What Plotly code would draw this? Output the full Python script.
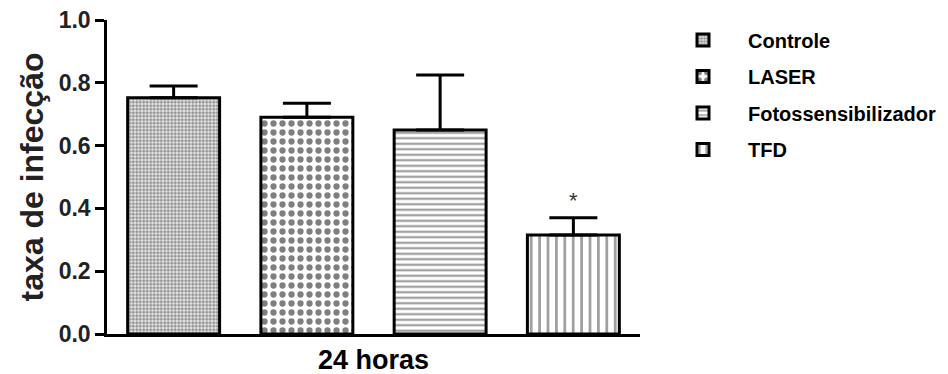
import plotly.graph_objects as go

# Infection rate at 24 h for each treatment group (mean and upper SEM)
grupos = ["Controle", "LASER", "Fotossensibilizador", "TFD"]
periodo = ["24 horas"]
taxa = [0.752, 0.690, 0.650, 0.315]
erro = [0.038, 0.045, 0.175, 0.055]
signif = ["", "", "", "*"]

# Fill textures for each group
padroes = [
    dict(shape=".", size=3.5, solidity=0.6, fgcolor="#333", bgcolor="#eee"),
    dict(shape=".", size=9, solidity=0.38, fgcolor="black", bgcolor="white"),
    dict(shape="-", size=5.5, solidity=0.42, fgcolor="#444", bgcolor="white"),
    dict(shape="|", size=8.4, solidity=0.33, fgcolor="#444", bgcolor="white"),
]

FONT = "Arial, Liberation Sans, sans-serif"
BARGAP = 0.0
fig = go.Figure()
for i, nome in enumerate(grupos):
    fig.add_trace(go.Bar(
        name=nome,
        x=periodo,
        y=[taxa[i]],
        legendgroup=nome,
        marker=dict(color="white", pattern=padroes[i],
                    line=dict(color="black", width=3)),
        error_y=dict(type="data", symmetric=False, array=[erro[i]],
                     arrayminus=[0], color="black", thickness=3, width=24),
    ))

# significance marks above the error bars
n = len(grupos)
slot = (1 - BARGAP) / n
for i, s in enumerate(signif):
    if s:
        fig.add_annotation(
            x=-0.5 * (1 - BARGAP) + (i + 0.5) * slot, xref="x",
            y=taxa[i] + erro[i], yref="y", yanchor="bottom",
            text=s, showarrow=False, yshift=3,
            font=dict(family=FONT, size=22, color="#333"),
        )

W, H = 948, 374
fig.update_layout(
    width=W, height=H,
    margin=dict(l=107, r=308, t=20, b=39.5),
    paper_bgcolor="white", plot_bgcolor="white",
    barmode="group", bargap=BARGAP, bargroupgap=0.31,
    font=dict(family=FONT, color="black"),
    showlegend=True,
    legend=dict(
        xref="container", yref="container",
        x=658 / W, xanchor="left",
        y=1 - 20.4 / H, yanchor="top",
        font=dict(family=FONT, size=20, color="black", weight="bold"),
        itemwidth=80, tracegroupgap=7.5,
        bgcolor="rgba(0,0,0,0)",
    ),
    xaxis=dict(
        range=[-0.5, 0.5], showline=True, linecolor="black", linewidth=2.5,
        ticks="", showgrid=False, zeroline=False, automargin=False,
        tickfont=dict(family=FONT, size=27, weight="bold"),
    ),
    yaxis=dict(
        range=[0, 1], dtick=0.2, tickformat=".1f", automargin=False,
        showline=True, linecolor="black", linewidth=2.5,
        ticks="outside", ticklen=9, tickwidth=2.5, tickcolor="black",
        showgrid=False, zeroline=False,
        tickfont=dict(family=FONT, size=23, weight="bold", color="#222"),
        title=dict(text="taxa de infecção", standoff=6,
                   font=dict(family=FONT, size=32, weight="bold", color="#222")),
    ),
)

fig.write_html("out.html")
